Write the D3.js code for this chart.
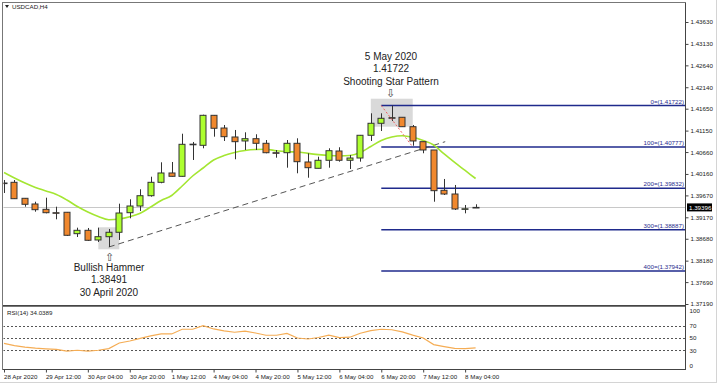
<!DOCTYPE html>
<html>
<head>
<meta charset="utf-8">
<script src="https://cdn.jsdelivr.net/npm/d3@7"></script>
<style>
  body { margin: 0; background: #fff; }
  svg text { font-family: "Liberation Sans", Arial, sans-serif; }
</style>
</head>
<body>
<div id="chart"></div>
<script>
// USDCAD H4, 28 Apr 20:00 .. 8 May 08:00 (46 bars)
const opens  = [1.39953,1.39969,1.39604,1.39474,1.39352,1.39275,1.39285,1.38796,1.38873,1.38652,
                1.38727,1.38828,1.39275,1.39428,1.39663,1.39969,1.40182,1.40106,1.40837,1.40814,
                1.41499,1.41209,1.41004,1.40913,1.40965,1.40860,1.40645,1.40645,1.40860,1.40433,
                1.40289,1.40472,1.40684,1.40472,1.40524,1.41043,1.41317,1.41445,1.41454,1.41239,
                1.40897,1.40707,1.39787,1.39702,1.39360,1.39385];
const highs  = [1.40022,1.40022,1.39610,1.39526,1.39618,1.39412,1.39291,1.38933,1.38926,1.38933,
                1.38903,1.39481,1.39581,1.39810,1.40097,1.40426,1.40433,1.41079,1.40890,1.41513,
                1.41505,1.41278,1.41164,1.41111,1.41066,1.40935,1.40707,1.40935,1.40974,1.40632,
                1.40554,1.40746,1.40769,1.40593,1.41050,1.41545,1.41545,1.41722,1.41454,1.41278,
                1.40897,1.40707,1.40045,1.39908,1.39451,1.39467];
const lows   = [1.39725,1.39590,1.39412,1.39298,1.39261,1.39124,1.38743,1.38720,1.38629,1.38606,
                1.38491,1.38652,1.39147,1.39314,1.39641,1.39947,1.40100,1.40100,1.40479,1.40746,
                1.41011,1.40913,1.40495,1.40707,1.40707,1.40632,1.40531,1.40303,1.40175,1.40074,
                1.40289,1.40303,1.40440,1.40273,1.40440,1.40913,1.41141,1.41369,1.41239,1.40805,
                1.40632,1.39526,1.39679,1.39337,1.39261,1.39385];
const closes = [1.39950,1.39595,1.39467,1.39344,1.39275,1.39272,1.38759,1.38873,1.38645,1.38727,
                1.38828,1.39268,1.39428,1.39663,1.39969,1.40182,1.40106,1.40837,1.40840,1.41499,
                1.41203,1.41011,1.40897,1.40965,1.40860,1.40645,1.40642,1.40860,1.40440,1.40303,
                1.40472,1.40691,1.40472,1.40524,1.41043,1.41317,1.41431,1.41442,1.41239,1.40913,
                1.40707,1.39778,1.39702,1.39360,1.39365,1.39396];

const maValues = [1.40193,1.40068,1.39953,1.39851,1.39771,1.39691,1.39565,1.39417,1.39291,1.39188,
                  1.39115,1.39131,1.39182,1.39261,1.39405,1.39554,1.39668,1.39885,1.40113,1.40296,
                  1.40479,1.40581,1.40650,1.40696,1.40718,1.40723,1.40689,1.40668,1.40661,1.40629,
                  1.40602,1.40581,1.40570,1.40581,1.40650,1.40787,1.40924,1.41004,1.41034,1.40999,
                  1.40924,1.40821,1.40616,1.40422,1.40239,1.40056];

const rsiValues = [41.4,37.8,35.4,33.7,32.6,31.8,28.9,30.2,28.9,30.2,
                   32.9,41.9,45.1,49.5,53.3,56.5,56.5,64.1,64.1,70.0,
                   64.6,61.4,59.3,61.1,58.1,54.4,54.4,57.3,50.0,48.4,
                   50.8,54.6,50.5,51.3,57.6,62.0,64.1,63.3,59.8,54.6,
                   50.0,39.4,36.2,33.3,33.0,34.0389];

const priceTicks = [1.43630,1.43130,1.42640,1.42140,1.41650,1.41150,1.40660,
                    1.40160,1.39670,1.39170,1.38680,1.38180,1.37690,1.37190];
const rsiTicks = [100, 70, 50, 30, 0];
const rsiLevels = [70, 50, 30];

const timeTickBars   = [0,4,8,12,16,20,24,28,32,36,40,44];
const timeTickLabels = ["28 Apr 2020","29 Apr 12:00","30 Apr 04:00","30 Apr 20:00","1 May 12:00",
                        "4 May 04:00","4 May 20:00","5 May 12:00","6 May 04:00","6 May 20:00",
                        "7 May 12:00","8 May 04:00"];

const fibLevels = ["0","100","200","300","400"];
const fibPrices = [1.41722,1.40777,1.39832,1.38887,1.37942];
const fibStartBar = 36;

const lastPrice = 1.39396;
const hammerBox = [9, 11, 1.38942, 1.38439];
const starBox   = [35, 39, 1.41878, 1.41239];
const trendBars   = [10, 42.1];
const trendPrices = [1.38491, 1.40897];
const fibDiagBars   = [36, 39];
const fibDiagPrices = [1.41722, 1.40777];

const W = 719, H = 387;
const L = 3, R = 685, mainTop = 3, mainBot = 305, rsiTop = 307, rsiBot = 369;

const svg = d3.select("#chart").append("svg")
  .attr("width", W).attr("height", H);

const x = d3.scaleLinear().domain([0, 45]).range([4, 4 + 45 * 10.48]);
const y = d3.scaleLinear().domain([1.37190, 1.43630]).range([304, 22]);
const yr = d3.scaleLinear().domain([0, 100]).range([rsiBot, rsiTop]);

// outer window edges
svg.append("line").attr("x1", 716.5).attr("x2", 716.5).attr("y1", 0).attr("y2", 382)
  .attr("stroke", "#d4d4d4");
svg.append("line").attr("x1", 0).attr("x2", 717).attr("y1", 382.5).attr("y2", 382.5)
  .attr("stroke", "#d4d4d4");

svg.append("clipPath").attr("id", "mainclip")
  .append("rect").attr("x", L + 0.5).attr("y", mainTop).attr("width", R - L - 0.5).attr("height", mainBot - mainTop);
svg.append("clipPath").attr("id", "rsiclip")
  .append("rect").attr("x", L + 0.5).attr("y", rsiTop).attr("width", R - L - 0.5).attr("height", rsiBot - rsiTop);

const main = svg.append("g").attr("clip-path", "url(#mainclip)");

// current price line
main.append("line")
  .attr("x1", L).attr("x2", R)
  .attr("y1", Math.round(y(lastPrice)) + 0.5).attr("y2", Math.round(y(lastPrice)) + 0.5)
  .attr("stroke", "#c8c8c8");

// pattern boxes
[hammerBox, starBox].forEach(b => {
  main.append("rect")
    .attr("x", x(b[0])).attr("y", y(b[2]))
    .attr("width", x(b[1]) - x(b[0])).attr("height", y(b[3]) - y(b[2]))
    .attr("fill", "#d9d9d9");
});

// fibonacci levels
const fib = main.append("g");
fib.selectAll("line").data(fibPrices).enter().append("line")
  .attr("x1", x(fibStartBar)).attr("x2", R)
  .attr("y1", d => y(d)).attr("y2", d => y(d))
  .attr("stroke", "#1f2a8c").attr("stroke-width", 1.6);
fib.selectAll("text").data(fibPrices).enter().append("text")
  .attr("x", R - 1).attr("y", d => y(d) - 2)
  .attr("text-anchor", "end")
  .attr("font-size", 6.2).attr("fill", "#1f2a8c")
  .text((d, i) => `${fibLevels[i]}=(${d.toFixed(5)})`);

// trend line
main.append("line")
  .attr("x1", x(trendBars[0])).attr("y1", y(trendPrices[0]))
  .attr("x2", x(trendBars[1])).attr("y2", y(trendPrices[1]))
  .attr("stroke", "#555").attr("stroke-width", 1)
  .attr("stroke-dasharray", "6,4");

// moving average
const maLine = d3.line().x((d, i) => x(i)).y(d => y(d)).curve(d3.curveMonotoneX);
main.append("path").datum(maValues)
  .attr("d", maLine)
  .attr("fill", "none").attr("stroke", "#a4e632").attr("stroke-width", 1.6);

// candles
const bw = 7;
const candles = main.selectAll(".candle").data(d3.range(opens.length)).enter()
  .append("g").attr("class", "candle");
candles.append("line")
  .attr("x1", i => Math.round(x(i)) + 0.5).attr("x2", i => Math.round(x(i)) + 0.5)
  .attr("y1", i => y(highs[i])).attr("y2", i => y(lows[i]))
  .attr("stroke", "#333");
candles.append("rect")
  .attr("x", i => Math.round(x(i)) - (bw - 1) / 2)
  .attr("y", i => y(Math.max(opens[i], closes[i])))
  .attr("width", bw - 1)
  .attr("height", i => Math.max(0.6, Math.abs(y(opens[i]) - y(closes[i]))))
  .attr("fill", i => closes[i] >= opens[i] ? "#adff2f" : "#f0882e")
  .attr("stroke", "#333").attr("stroke-width", 1);

// red diagonal of the fibonacci tool
main.append("line")
  .attr("x1", x(fibDiagBars[0])).attr("y1", y(fibDiagPrices[0]))
  .attr("x2", x(fibDiagBars[1])).attr("y2", y(fibDiagPrices[1]))
  .attr("stroke", "#f06060").attr("stroke-width", 1)
  .attr("stroke-dasharray", "2,2");

// annotations
const note = (lines, cx, y0) => {
  lines.forEach((t, k) => {
    svg.append("text").attr("x", cx).attr("y", y0 + k * 12.5)
      .attr("text-anchor", "middle").attr("font-size", 10).attr("fill", "#222").text(t);
  });
};
note(["5 May 2020", "1.41722", "Shooting Star Pattern"], 391, 59.5);
note(["Bullish Hammer", "1.38491", "30 April 2020"], 109, 270.5);
svg.append("text").attr("x", x(37) - 1).attr("y", 96.5).attr("text-anchor", "middle")
  .attr("font-family", "DejaVu Sans").attr("font-size", 11).attr("fill", "#444").text("⇩");
svg.append("text").attr("x", x(10) + 0.5).attr("y", 260.5).attr("text-anchor", "middle")
  .attr("font-family", "DejaVu Sans").attr("font-size", 11).attr("fill", "#444").text("⇧");

// title
svg.append("path").attr("d", "M5,5 L9,5 L7,8 Z").attr("fill", "#222");
svg.append("text").attr("x", 12).attr("y", 9.3).attr("font-size", 6.2).attr("fill", "#222").text("USDCAD,H4");

// RSI panel
const rsi = svg.append("g").attr("clip-path", "url(#rsiclip)");
rsi.selectAll(".lvl").data(rsiLevels).enter().append("line")
  .attr("x1", L).attr("x2", R)
  .attr("y1", d => Math.round(yr(d)) + 0.5).attr("y2", d => Math.round(yr(d)) + 0.5)
  .attr("stroke", "#555").attr("stroke-dasharray", "2,2");
const rsiLine = d3.line().x((d, i) => x(i)).y(d => yr(d));
rsi.append("path").datum(rsiValues).attr("d", rsiLine)
  .attr("fill", "none").attr("stroke", "#f5ad55").attr("stroke-width", 1.2);
svg.append("text").attr("x", 7).attr("y", 315).attr("font-size", 6.2).attr("fill", "#222")
  .text("RSI(14) " + rsiValues[rsiValues.length - 1].toFixed(4));

// panel frames
svg.append("rect").attr("x", L - 0.5).attr("y", mainTop - 0.5).attr("width", R - L + 1).attr("height", mainBot - mainTop + 1)
  .attr("fill", "none").attr("stroke", "#777");
svg.append("rect").attr("x", L - 0.5).attr("y", rsiTop - 0.5).attr("width", R - L + 1).attr("height", rsiBot - rsiTop + 1)
  .attr("fill", "none").attr("stroke", "#777");
svg.append("line").attr("x1", R + 0.5).attr("x2", R + 0.5).attr("y1", mainTop).attr("y2", rsiBot)
  .attr("stroke", "#444");
svg.append("line").attr("x1", L).attr("x2", R + 1).attr("y1", mainBot + 0.5).attr("y2", mainBot + 0.5)
  .attr("stroke", "#444");
svg.append("line").attr("x1", L).attr("x2", R + 1).attr("y1", rsiBot + 0.5).attr("y2", rsiBot + 0.5)
  .attr("stroke", "#444");

// price axis
const yAxis = d3.axisRight(y).tickValues(priceTicks).tickSize(3).tickPadding(2)
  .tickFormat(d => d.toFixed(5));
svg.append("g").attr("transform", `translate(${R + 0.5},0)`).call(yAxis)
  .call(g => g.select(".domain").remove())
  .call(g => g.selectAll("text").attr("font-size", 6.2).attr("fill", "#222")
    .attr("font-family", "Liberation Sans, Arial, sans-serif"))
  .call(g => g.selectAll("line").attr("stroke", "#444"));

// last price marker
const lp = svg.append("g").attr("transform", `translate(${R + 1},${y(lastPrice)})`);
lp.append("rect").attr("x", 1).attr("y", -4).attr("width", 25).attr("height", 8).attr("fill", "#000");
lp.append("text").attr("x", 3).attr("y", 2.3).attr("font-size", 6.2).attr("fill", "#fff").text(lastPrice.toFixed(5));

// RSI axis
const rAxis = d3.axisRight(yr).tickValues(rsiTicks).tickSize(0).tickPadding(4);
svg.append("g").attr("transform", `translate(${R + 0.5},0)`).call(rAxis)
  .call(g => g.select(".domain").remove())
  .call(g => g.selectAll("text").attr("font-size", 6.2).attr("fill", "#222")
    .attr("font-family", "Liberation Sans, Arial, sans-serif")
    .attr("dy", d => d === 100 ? "0.9em" : d === 0 ? "-0.2em" : "0.32em"));

// time axis
const xAxis = d3.axisBottom(x).tickValues(timeTickBars).tickSize(3).tickPadding(2)
  .tickFormat((d, i) => timeTickLabels[i]);
svg.append("g").attr("transform", `translate(0,${rsiBot + 0.5})`).call(xAxis)
  .call(g => g.select(".domain").remove())
  .call(g => g.selectAll("line").attr("stroke", "#444"))
  .call(g => g.selectAll("text").attr("font-size", 6.2).attr("fill", "#222")
    .attr("text-anchor", "start").attr("dx", -0.5)
    .attr("font-family", "Liberation Sans, Arial, sans-serif"));
</script>
</body>
</html>
